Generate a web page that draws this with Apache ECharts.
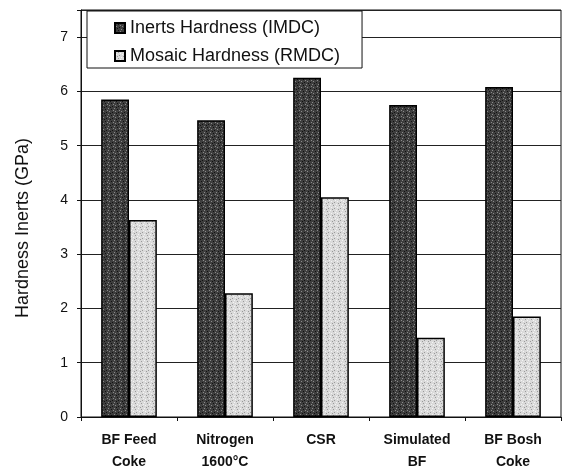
<!DOCTYPE html>
<html>
<head>
<meta charset="utf-8">
<script src="https://cdn.jsdelivr.net/npm/echarts@6/dist/echarts.min.js"></script>
<style>
  html, body { margin: 0; padding: 0; background: #fff; }
  #chart { width: 570px; height: 470px; }
</style>
</head>
<body>
<div id="chart"></div>
<script>
// values
const categories = ['BF Feed\nCoke', 'Nitrogen\n1600°C', 'CSR', 'Simulated\nBF', 'BF Bosh\nCoke'];
const inertsHardness = [5.85, 5.47, 6.25, 5.75, 6.08];
const mosaicHardness = [3.63, 2.28, 4.05, 1.46, 1.85];
const yTicks = [0, 1, 2, 3, 4, 5, 6, 7];

const FONT = 'Liberation Sans, Arial, sans-serif';

// speckled fill like the printed/scanned bars (fixed dither, no randomness)
function speckle(base, dark, light) {
  const c = document.createElement('canvas');
  c.width = 6;
  c.height = 6;
  const ctx = c.getContext('2d');
  ctx.fillStyle = base;
  ctx.fillRect(0, 0, 6, 6);
  const dots = [[0, 0], [3, 1], [1, 3], [4, 4], [5, 2], [2, 5]];
  dots.forEach(([x, y], i) => {
    ctx.fillStyle = i % 2 ? dark : light;
    ctx.fillRect(x, y, 1, 1);
  });
  return c;
}

const chart = echarts.init(document.getElementById('chart'));

const option = {
  backgroundColor: '#fff',
  animation: false,
  textStyle: { fontFamily: FONT },
  grid: {
    left: 81,
    right: 9,
    top: 10,
    bottom: 53,
    outerBoundsMode: 'none',
    containLabel: false,
    show: true,
    borderColor: '#111',
    borderWidth: 1
  },
  legend: {
    orient: 'vertical',
    left: 87,
    top: 11,
    padding: [8, 22, 3, 27],
    itemGap: 10,
    itemWidth: 10,
    itemHeight: 10,
    icon: 'rect',
    backgroundColor: '#fff',
    borderColor: '#111',
    borderWidth: 1,
    textStyle: { fontSize: 18, color: '#111', fontFamily: FONT },
    data: ['Inerts Hardness (IMDC)', 'Mosaic Hardness (RMDC)']
  },
  xAxis: {
    type: 'category',
    data: categories,
    axisLine: { lineStyle: { color: '#111', width: 1 } },
    axisTick: { show: true, length: 4, lineStyle: { color: '#111' } },
    axisLabel: {
      color: '#111',
      fontSize: 14,
      fontWeight: 'bold',
      lineHeight: 22,
      margin: 12
    }
  },
  yAxis: {
    type: 'value',
    min: 0,
    max: 7.5,
    interval: 1,
    axisLine: { show: true, lineStyle: { color: '#111', width: 1 } },
    axisTick: { show: true, length: 4, lineStyle: { color: '#111' } },
    axisLabel: {
      color: '#111',
      fontSize: 14,
      margin: 13,
      formatter: v => (yTicks.includes(v) ? String(v) : '')
    },
    splitLine: { lineStyle: { color: '#222', width: 1 } }
  },
  graphic: [{
    type: 'text',
    left: 14,
    top: 138,
    rotation: Math.PI / 2,
    style: {
      text: 'Hardness Inerts (GPa)',
      fontSize: 18,
      fill: '#111',
      fontFamily: FONT
    }
  }],
  series: [
    {
      name: 'Inerts Hardness (IMDC)',
      type: 'bar',
      data: inertsHardness,
      barGap: '0%',
      barCategoryGap: '42%',
      itemStyle: {
        color: { image: speckle('#3e3e3e', '#111', '#8a8a8a'), repeat: 'repeat' },
        borderColor: '#000',
        borderWidth: 1.5
      }
    },
    {
      name: 'Mosaic Hardness (RMDC)',
      type: 'bar',
      data: mosaicHardness,
      itemStyle: {
        color: { image: speckle('#dadada', '#9a9a9a', '#f4f4f4'), repeat: 'repeat' },
        borderColor: '#000',
        borderWidth: 1.5
      }
    }
  ]
};

chart.setOption(option);
</script>
</body>
</html>
